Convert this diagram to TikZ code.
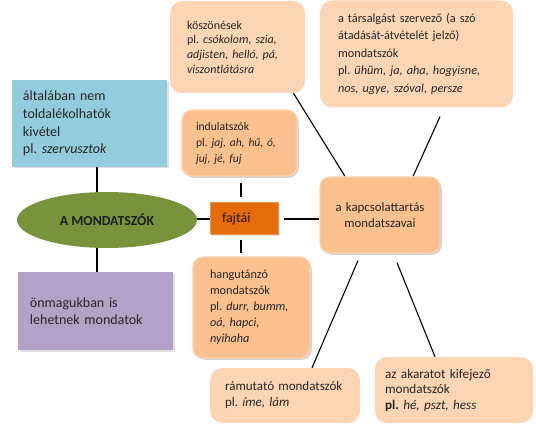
\documentclass[tikz,border=0pt]{standalone}
\usepackage{fontspec}
\setmainfont{Carlito}
\usetikzlibrary{calc,shadows,backgrounds,shapes.geometric}
\definecolor{peachL}{HTML}{FCD5B5}
\definecolor{peachM}{HTML}{FAC090}
\definecolor{peachB}{HTML}{FCD3AE}
\definecolor{blueB}{HTML}{93CDDD}
\definecolor{purpB}{HTML}{B3A2C7}
\definecolor{greenE}{HTML}{77933C}
\definecolor{orangeF}{HTML}{E46C0A}
\definecolor{txtc}{HTML}{262626}
\begin{document}
\frenchspacing
\begin{tikzpicture}[x=1pt,y=-1pt,
  base/.style={text=txtc, align=left, inner ysep=0pt, anchor=center},
  lightbox/.style={base, fill=peachL, rounded corners=12pt},
  medbox/.style={base, fill=peachM, draw=peachB, line width=1.2pt, rounded corners=10pt,
    drop shadow={shadow xshift=1.8pt, shadow yshift=-1.8pt, opacity=0.35, fill=gray}},
  flatbox/.style={base, drop shadow={shadow xshift=1.5pt, shadow yshift=-1.5pt, opacity=0.25, fill=gray}},
  conn/.style={line width=1.1pt, black}
]
\useasboundingbox (0,0) rectangle (536,433);

% top boxes
\node[lightbox, minimum width=135pt, minimum height=92pt, inner xsep=17pt, text width=101pt,
      font=\fontsize{12}{14.7}\selectfont] (kosz) at (237.5,47)
  {köszönések\\\mbox{pl. \textit{csókolom, szia,}}\\\mbox{\textit{adjisten, helló, pá,}}\\\textit{viszontlátásra}};
\node[lightbox, minimum width=193pt, minimum height=107pt, inner xsep=18pt, text width=157pt,
      font=\fontsize{12.3}{17.5}\selectfont] (tars) at (416.5,54)
  {\mbox{a társalgást szervező (a szó}\\átadását-átvételét jelző)\\mondatszók\\\mbox{pl. \textit{ühüm, ja, aha, hogyisne,}}\\\mbox{\textit{nos, ugye, szóval, persze}}};

% left boxes
\node[flatbox, fill=blueB, minimum width=155pt, minimum height=87pt, inner xsep=11pt, text width=133pt,
      font=\fontsize{14}{17.6}\selectfont] (blue) at (89.5,123.5)
  {általában nem\\toldalékolhatók\\kivétel\\pl. \textit{szervusztok}};
\node[flatbox, fill=purpB, minimum width=155pt, minimum height=78pt, inner xsep=12pt, text width=131pt,
      font=\fontsize{14}{17.6}\selectfont] (purp) at (95.5,311)
  {önmagukban is\\lehetnek mondatok};

% centre
\node[ellipse, fill=greenE, minimum width=180pt, minimum height=56pt, inner sep=0pt,
      text=txtc!80!black, font=\fontsize{13.8}{15}\selectfont\bfseries] (ell) at (107,220) {A MONDATSZÓK};
\node[flatbox, fill=orangeF, draw=orangeF!70!white, line width=1pt, minimum width=68pt, minimum height=32pt,
      inner xsep=12pt, text width=44pt, text=black!85!orange, font=\fontsize{14}{16}\selectfont] (faj) at (244,219) {fajtái};

\node[medbox, minimum width=115pt, minimum height=66pt, inner xsep=14pt, text width=87pt,
      font=\fontsize{11.6}{16}\selectfont] (indul) at (239.5,143)
  {indulatszók\\\mbox{pl. \textit{jaj, ah, hű, ó,}}\\\mbox{\textit{juj, jé, fuj}}};
\node[medbox, minimum width=117pt, minimum height=101pt, inner xsep=17pt, text width=83pt,
      font=\fontsize{12.2}{16}\selectfont] (hang) at (251.5,307.5)
  {hangutánzó\\mondatszók\\\mbox{pl. \textit{durr, bumm,}}\\\textit{oá, hapci,}\\\textit{nyihaha}};
\node[medbox, minimum width=120pt, minimum height=76pt, text width=110pt, inner xsep=5pt, align=center,
      font=\fontsize{12.8}{15.5}\selectfont] (kapcs) at (380,215)
  {a kapcsolattartás\\mondatszavai};

% bottom boxes
\node[lightbox, minimum width=150pt, minimum height=55pt, inner xsep=15pt, text width=120pt,
      font=\fontsize{13}{16}\selectfont] (ramu) at (285,395.5)
  {rámutató mondatszók\\pl. \textit{íme, lám}};
\node[lightbox, minimum width=158pt, minimum height=66pt, inner xsep=10pt, text width=138pt,
      font=\fontsize{13.2}{15.5}\selectfont] (akar) at (454,390)
  {az akaratot kifejező\\mondatszók\\\textbf{pl.} \textit{hé, pszt, hess}};

% connectors
\coordinate (fn) at ([xshift=-3pt]faj.north);
\coordinate (fs) at ([xshift=-3pt]faj.south);
\begin{scope}[on background layer]
\draw[conn] ($(kosz.south east)+(-13,-2)$) -- ($(kapcs.north)+(-35,0)$);
\draw[conn] ($(tars.south)+(23.5,9)$) -- ($(kapcs.north)+(33,0)$);
\draw[conn] ($(kapcs.south)+(-22,7)$) -- ($(ramu.north)+(27,0)$);
\draw[conn] ($(kapcs.south)+(17,9)$) -- ($(akar.north)+(-19,0)$);
\draw[conn] ($(blue.south)+(7.5,0)$) -- ($(ell.north)+(-10,0)$);
\draw[conn] ($(ell.south)+(-10,0)$) -- ($(purp.north)+(1.5,0)$);
\draw[conn] (ell.east |- faj.west) -- (faj.west);
\draw[conn, shorten <=5pt] (faj.east) -- (faj.east -| kapcs.west);
\draw[conn, shorten <=5pt, shorten >=6pt] (fn) -- (fn |- indul.south);
\draw[conn, shorten <=5pt, shorten >=3pt] (fs) -- (fs |- hang.north);
\end{scope}
\end{tikzpicture}
\end{document}
